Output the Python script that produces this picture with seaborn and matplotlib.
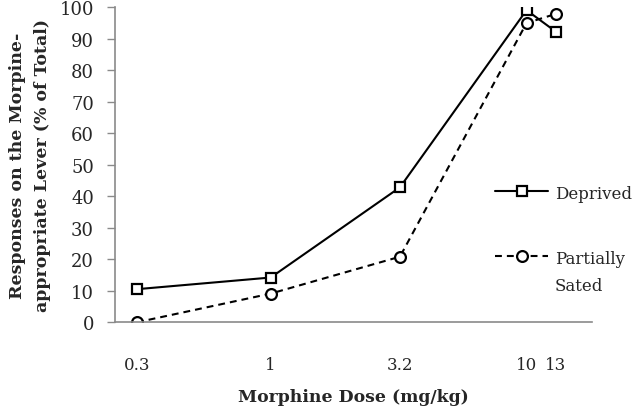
"""
Morphine discrimination — dose-response curves (deprived vs partially sated)
"""

import pandas as pd
import numpy as np
import matplotlib
matplotlib.use('Agg')
import matplotlib.pyplot as plt
import seaborn as sns

# ── Data ────────────────────────────────────────────────
doses      = [0.3, 1, 3.2, 10, 13]
dose_ticks = ['0.3', '1', '3.2', '10', '13']
deprived   = [10.5, 14.2, 42.8, 99.0, 92.2]
sated      = [0.0, 9.1, 20.8, 94.9, 97.8]
groups     = ['Deprived', 'Partially Sated']

df = pd.DataFrame({
    'dose':  doses * 2,
    'resp':  deprived + sated,
    'group': [groups[0]] * len(doses) + [groups[1]] * len(doses),
})

# ── Style ──────────────────────────────────────────────
sns.set_style('white')
plt.rcParams['font.family'] = ['DejaVu Serif']
AXIS_GREY = '#8a8a8a'

fig = plt.figure(figsize=(6.35, 4.10), dpi=100)
ax = fig.add_axes([0.181, 0.2115, 0.751, 0.769])

sns.lineplot(data=df, x='dose', y='resp', hue='group', style='group',
             hue_order=groups, style_order=groups,
             palette={groups[0]: 'black', groups[1]: 'black'},
             markers={groups[0]: 's', groups[1]: 'o'},
             dashes={groups[0]: '', groups[1]: (3.3, 2.4)},
             markersize=7.8, markerfacecolor='white', markeredgecolor='black',
             markeredgewidth=1.6, linewidth=1.5, legend=False, ax=ax)

# ── Axes ───────────────────────────────────────────────
ax.set_xscale('log')
ax.set_xlim(0.246, 18.0)
ax.set_ylim(0, 100)
ax.set_xticks(doses)
ax.set_xticklabels(dose_ticks)
ax.xaxis.set_minor_locator(matplotlib.ticker.NullLocator())
ax.set_yticks(np.arange(0, 101, 10))

ax.tick_params(axis='x', length=0, pad=24, labelsize=12)
ax.tick_params(axis='y', length=6, width=1, color=AXIS_GREY, direction='out',
               pad=9, labelsize=13, left=True)

for side in ['top', 'right']:
    ax.spines[side].set_visible(False)
for side in ['left', 'bottom']:
    ax.spines[side].set_color(AXIS_GREY)
    ax.spines[side].set_linewidth(1.2)

ax.set_xlabel('Morphine Dose (mg/kg)', fontweight='bold', fontsize=12.4)
ax.xaxis.set_label_coords(0.5, -0.21)
ax.set_ylabel('Responses on the Morpine-\nappropriate Lever (% of Total)',
              fontweight='bold', fontsize=12.5, linespacing=1.6)
ax.yaxis.set_label_coords(-0.134, 0.5)

# ── Legend ─────────────────────────────────────────────
handles = ax.lines[:2]
leg = fig.legend(handles, ['Deprived', 'Partially\nSated'],
                 loc='upper left', bbox_to_anchor=(0.7795, 0.546),
                 frameon=False, fontsize=12, handlelength=3.2,
                 labelspacing=2.9, handletextpad=0.4,
                 borderpad=0, borderaxespad=0)
for t in leg.get_texts():
    t.set_linespacing(1.75)
# keep the marker level with the first line of a wrapped label
for row in leg._legend_handle_box.get_children()[0].get_children():
    row.align = 'top'

plt.savefig('out.png', dpi=100, facecolor='white')
plt.close()
